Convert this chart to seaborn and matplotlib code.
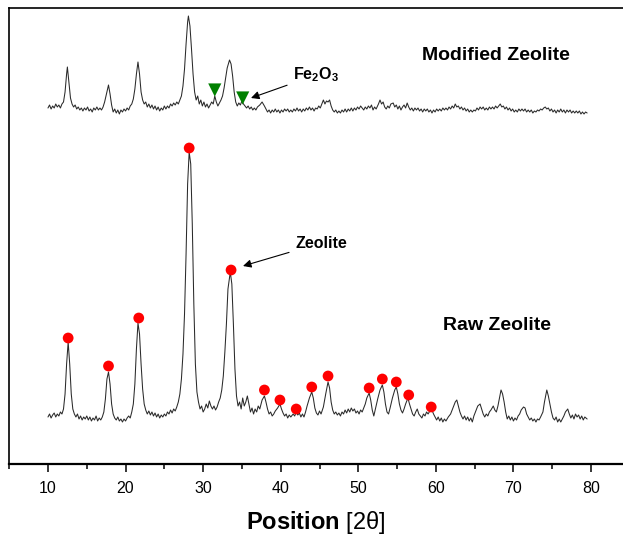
import numpy as np
import pandas as pd
import matplotlib
matplotlib.use("Agg")
import matplotlib.pyplot as plt
import seaborn as sns

# ---------------- data ----------------
raw_x = [10.0, 10.2, 10.4, 10.6, 10.8, 11.0, 11.2, 11.4, 11.6, 11.8, 12.0, 12.2, 12.4, 12.6, 12.8, 13.0, 13.2, 13.4, 13.6, 13.8,
         14.0, 14.2, 14.4, 14.6, 14.8, 15.0, 15.2, 15.4, 15.6, 15.8, 16.0, 16.2, 16.4, 16.6, 16.8, 17.0, 17.2, 17.4, 17.6, 17.8,
         18.0, 18.2, 18.4, 18.6, 18.8, 19.0, 19.2, 19.4, 19.6, 19.8, 20.0, 20.2, 20.4, 20.6, 20.8, 21.0, 21.2, 21.4, 21.6, 21.8,
         22.0, 22.2, 22.4, 22.6, 22.8, 23.0, 23.2, 23.4, 23.6, 23.8, 24.0, 24.2, 24.4, 24.6, 24.8, 25.0, 25.2, 25.4, 25.6, 25.8,
         26.0, 26.2, 26.4, 26.6, 26.8, 27.0, 27.2, 27.4, 27.6, 27.8, 28.0, 28.2, 28.4, 28.6, 28.8, 29.0, 29.2, 29.4, 29.6, 29.8,
         30.0, 30.2, 30.4, 30.6, 30.8, 31.0, 31.2, 31.4, 31.6, 31.8, 32.0, 32.2, 32.4, 32.6, 32.8, 33.0, 33.2, 33.5, 33.7, 33.9,
         34.1, 34.3, 34.5, 34.7, 34.9, 35.1, 35.3, 35.5, 35.7, 35.9, 36.1, 36.3, 36.5, 36.7, 36.9, 37.1, 37.3, 37.6, 37.9, 38.1,
         38.3, 38.5, 38.7, 38.9, 39.1, 39.3, 39.6, 39.9, 40.1, 40.3, 40.5, 40.7, 40.9, 41.1, 41.3, 41.6, 41.8, 42.0, 42.2, 42.4,
         42.6, 42.8, 43.0, 43.2, 43.4, 43.7, 44.0, 44.2, 44.4, 44.6, 44.8, 45.0, 45.2, 45.5, 45.8, 46.1, 46.3, 46.5, 46.7, 46.9,
         47.1, 47.3, 47.5, 47.7, 47.9, 48.1, 48.3, 48.5, 48.7, 48.9, 49.1, 49.3, 49.5, 49.7, 49.9, 50.1, 50.3, 50.5, 50.7, 50.9,
         51.1, 51.4, 51.6, 51.8, 52.0, 52.2, 52.5, 52.8, 53.1, 53.3, 53.5, 53.7, 53.9, 54.1, 54.4, 54.7, 54.9, 55.1, 55.3, 55.5,
         55.7, 55.9, 56.1, 56.4, 56.6, 56.8, 57.0, 57.2, 57.4, 57.6, 57.8, 58.0, 58.2, 58.4, 58.6, 58.8, 59.0, 59.3, 59.5, 59.7,
         59.9, 60.1, 60.3, 60.5, 60.7, 60.9, 61.1, 61.3, 61.6, 61.9, 62.2, 62.5, 62.7, 62.9, 63.1, 63.3, 63.5, 63.7, 63.9, 64.1,
         64.3, 64.5, 64.7, 64.9, 65.1, 65.4, 65.7, 65.9, 66.1, 66.3, 66.5, 66.7, 66.9, 67.1, 67.4, 67.6, 67.8, 68.0, 68.2, 68.4,
         68.6, 68.8, 69.0, 69.2, 69.4, 69.6, 69.8, 70.0, 70.2, 70.4, 70.6, 70.8, 71.0, 71.3, 71.5, 71.7, 71.9, 72.1, 72.3, 72.5,
         72.7, 72.9, 73.1, 73.3, 73.5, 73.8, 74.0, 74.3, 74.5, 74.7, 74.9, 75.1, 75.3, 75.5, 75.7, 75.9, 76.1, 76.3, 76.5, 76.7,
         77.0, 77.2, 77.4, 77.6, 77.8, 78.0, 78.2, 78.4, 78.6, 78.8, 79.0, 79.2, 79.5]
raw_y = [47, 50, 46, 49, 51, 47, 50, 48, 52, 50, 55, 70, 100, 122, 100, 70, 55, 50, 47, 50,
         45, 48, 44, 47, 45, 48, 44, 47, 43, 46, 44, 48, 43, 46, 44, 47, 52, 65, 85, 92,
         80, 60, 50, 46, 44, 47, 43, 45, 42, 45, 43, 46, 48, 46, 52, 60, 80, 115, 141, 130,
         100, 75, 60, 54, 50, 53, 49, 52, 48, 51, 47, 50, 46, 49, 47, 50, 48, 52, 50, 54,
         51, 55, 53, 57, 62, 70, 85, 110, 150, 210, 280, 312, 300, 240, 160, 100, 72, 62, 55, 58,
         52, 55, 60, 56, 63, 58, 55, 58, 54, 57, 62, 66, 74, 88, 112, 140, 175, 192, 180, 140,
         95, 68, 58, 62, 55, 66, 58, 62, 68, 60, 52, 56, 50, 55, 52, 58, 55, 64, 68, 62,
         55, 50, 52, 48, 50, 53, 56, 60, 55, 51, 48, 50, 46, 49, 47, 50, 48, 52, 49, 51,
         47, 50, 47, 52, 58, 66, 72, 66, 56, 51, 49, 53, 50, 57, 70, 82, 76, 62, 54, 50,
         52, 49, 51, 48, 52, 50, 54, 51, 55, 52, 56, 53, 55, 51, 53, 50, 54, 52, 56, 60,
         66, 71, 64, 54, 48, 55, 65, 74, 79, 72, 60, 52, 50, 56, 66, 74, 77, 70, 60, 54,
         51, 55, 60, 66, 60, 55, 50, 48, 52, 55, 50, 48, 46, 50, 48, 52, 50, 54, 54, 50,
         47, 44, 47, 43, 46, 42, 45, 43, 47, 50, 56, 62, 64, 58, 52, 48, 45, 48, 44, 47,
         43, 46, 42, 48, 52, 58, 60, 55, 50, 47, 50, 48, 52, 54, 58, 54, 52, 58, 66, 74,
         70, 62, 52, 45, 48, 44, 47, 43, 46, 44, 48, 50, 54, 57, 56, 50, 47, 44, 46, 43,
         45, 42, 45, 44, 47, 52, 62, 74, 68, 60, 52, 46, 44, 47, 42, 45, 42, 45, 48, 52,
         55, 50, 46, 49, 45, 50, 47, 49, 45, 48, 44, 47, 45]

mod_x = [10.0, 10.2, 10.4, 10.6, 10.8, 11.0, 11.2, 11.4, 11.6, 11.8, 12.0, 12.2, 12.4, 12.5, 12.7, 12.9, 13.1, 13.3, 13.5, 13.7,
         13.9, 14.1, 14.3, 14.5, 14.7, 14.9, 15.1, 15.3, 15.5, 15.7, 15.9, 16.1, 16.3, 16.5, 16.7, 16.9, 17.1, 17.3, 17.6, 17.8,
         18.0, 18.2, 18.4, 18.6, 18.8, 19.0, 19.2, 19.4, 19.6, 19.8, 20.0, 20.2, 20.4, 20.6, 20.8, 21.0, 21.2, 21.4, 21.6, 21.8,
         22.0, 22.2, 22.4, 22.6, 22.8, 23.0, 23.2, 23.4, 23.6, 23.8, 24.0, 24.2, 24.4, 24.6, 24.8, 25.0, 25.2, 25.4, 25.6, 25.8,
         26.0, 26.2, 26.4, 26.6, 26.8, 27.0, 27.2, 27.4, 27.6, 27.8, 28.0, 28.1, 28.3, 28.5, 28.7, 28.9, 29.1, 29.3, 29.5, 29.7,
         29.9, 30.1, 30.3, 30.5, 30.7, 30.9, 31.1, 31.3, 31.5, 31.7, 31.9, 32.1, 32.3, 32.5, 32.7, 32.9, 33.1, 33.4, 33.6, 33.8,
         34.0, 34.2, 34.4, 34.6, 34.8, 35.0, 35.2, 35.4, 35.6, 35.8, 36.0, 36.2, 36.4, 36.6, 36.8, 37.0, 37.3, 37.6, 37.9, 38.1,
         38.3, 38.5, 38.7, 38.9, 39.1, 39.3, 39.5, 39.7, 39.9, 40.1, 40.3, 40.5, 40.7, 40.9, 41.1, 41.3, 41.5, 41.7, 41.9, 42.1,
         42.3, 42.5, 42.7, 42.9, 43.1, 43.3, 43.5, 43.7, 43.9, 44.1, 44.3, 44.5, 44.7, 44.9, 45.1, 45.3, 45.5, 45.7, 45.9, 46.1,
         46.3, 46.5, 46.7, 46.9, 47.1, 47.3, 47.5, 47.7, 47.9, 48.1, 48.3, 48.5, 48.7, 48.9, 49.1, 49.3, 49.5, 49.7, 49.9, 50.1,
         50.3, 50.5, 50.7, 50.9, 51.1, 51.3, 51.5, 51.7, 51.9, 52.1, 52.3, 52.6, 52.8, 53.0, 53.2, 53.4, 53.6, 53.8, 54.0, 54.2,
         54.5, 54.7, 54.9, 55.1, 55.3, 55.5, 55.7, 55.9, 56.1, 56.3, 56.5, 56.7, 56.9, 57.1, 57.3, 57.5, 57.7, 57.9, 58.1, 58.3,
         58.5, 58.7, 58.9, 59.1, 59.3, 59.5, 59.7, 59.9, 60.1, 60.3, 60.5, 60.7, 60.9, 61.1, 61.3, 61.5, 61.7, 61.9, 62.1, 62.3,
         62.5, 62.7, 62.9, 63.1, 63.3, 63.5, 63.7, 63.9, 64.1, 64.3, 64.5, 64.7, 64.9, 65.1, 65.3, 65.5, 65.7, 65.9, 66.1, 66.3,
         66.5, 66.7, 66.9, 67.1, 67.3, 67.5, 67.7, 67.9, 68.1, 68.3, 68.5, 68.7, 68.9, 69.1, 69.3, 69.5, 69.7, 69.9, 70.1, 70.3,
         70.5, 70.7, 70.9, 71.1, 71.3, 71.5, 71.7, 71.9, 72.1, 72.3, 72.5, 72.7, 72.9, 73.1, 73.3, 73.5, 73.7, 73.9, 74.1, 74.3,
         74.5, 74.7, 74.9, 75.1, 75.3, 75.5, 75.7, 75.9, 76.1, 76.3, 76.5, 76.7, 76.9, 77.1, 77.3, 77.5, 77.7, 77.9, 78.1, 78.3,
         78.5, 78.7, 78.9, 79.1, 79.3, 79.5]
mod_y = [46, 49, 45, 48, 46, 50, 47, 49, 46, 50, 52, 62, 80, 87, 72, 56, 50, 47, 49, 45,
         47, 44, 46, 43, 46, 44, 47, 43, 45, 42, 46, 44, 47, 44, 46, 44, 47, 52, 62, 69,
         60, 49, 42, 45, 41, 44, 40, 44, 42, 45, 43, 46, 44, 48, 50, 55, 65, 80, 92, 80,
         62, 54, 50, 52, 47, 50, 46, 49, 45, 48, 44, 47, 43, 46, 44, 48, 45, 48, 46, 50,
         48, 51, 49, 52, 50, 54, 58, 68, 85, 110, 132, 138, 128, 105, 80, 62, 54, 58, 50, 54,
         48, 52, 47, 50, 46, 49, 52, 50, 58, 52, 48, 51, 54, 58, 66, 76, 86, 94, 90, 78,
         62, 52, 48, 51, 49, 53, 50, 48, 46, 48, 45, 47, 44, 46, 44, 47, 49, 52, 48, 45,
         42, 44, 41, 44, 42, 45, 42, 44, 41, 44, 42, 45, 43, 45, 42, 44, 42, 45, 43, 46,
         43, 45, 42, 45, 43, 46, 44, 47, 44, 46, 43, 46, 45, 48, 46, 50, 54, 50, 53, 52,
         54, 48, 44, 42, 44, 41, 43, 41, 44, 42, 45, 42, 45, 43, 46, 43, 46, 44, 47, 45,
         48, 46, 44, 47, 45, 48, 46, 49, 44, 47, 45, 50, 54, 50, 52, 47, 45, 48, 46, 50,
         51, 47, 49, 45, 48, 44, 47, 49, 46, 51, 47, 44, 46, 43, 46, 44, 46, 43, 45, 42,
         45, 43, 45, 42, 44, 41, 44, 42, 45, 43, 45, 43, 46, 44, 46, 44, 47, 45, 48, 46,
         50, 47, 48, 45, 47, 44, 46, 43, 45, 42, 44, 42, 44, 43, 46, 44, 47, 45, 47, 44,
         46, 44, 47, 45, 47, 45, 48, 46, 48, 50, 47, 48, 45, 47, 44, 46, 43, 45, 42, 44,
         42, 45, 43, 45, 43, 45, 42, 44, 42, 44, 41, 43, 42, 44, 43, 45, 44, 46, 47, 45,
         46, 43, 45, 42, 44, 41, 44, 42, 45, 42, 44, 41, 44, 42, 44, 41, 43, 41, 43, 41,
         43, 40, 42, 40, 42, 41]
mod_offset = 310

# peak markers
zeolite_x = [12.6, 17.8, 21.7, 28.2, 33.6, 37.9, 39.9, 42.0, 44.0, 46.1, 51.4, 53.1, 54.9, 56.5, 59.4]
zeolite_y = [126, 98, 146, 316, 194, 74, 64, 55, 77, 88, 76, 85, 82, 69, 57]
fe2o3_x = [31.5, 35.1]
fe2o3_y = [64, 56]   # relative to modified trace

xticks = [10, 20, 30, 40, 50, 60, 70, 80]

# ---------------- plotting ----------------
sns.set_style("ticks")
plt.rcParams["font.family"] = ["Liberation Sans", "DejaVu Sans"]
plt.rcParams["mathtext.fontset"] = "custom"
plt.rcParams["mathtext.rm"] = "Liberation Sans"
plt.rcParams["mathtext.bf"] = "Liberation Sans:bold"
plt.rcParams["mathtext.it"] = "Liberation Sans:italic"
plt.rcParams["text.color"] = "black"
plt.rcParams["xtick.color"] = "black"
plt.rcParams["xtick.labelcolor"] = "black"

fig = plt.figure(figsize=(6.23, 5.36), dpi=100)
ax = fig.add_axes([9.2 / 623, 72 / 536, 620.6 / 623, 456 / 536])

raw_df = pd.DataFrame({"x": raw_x, "y": raw_y})
mod_df = pd.DataFrame({"x": mod_x, "y": np.array(mod_y) + mod_offset})

sns.lineplot(data=raw_df, x="x", y="y", ax=ax, color="#2a2a2a", linewidth=0.75, sort=False, estimator=None)
sns.lineplot(data=mod_df, x="x", y="y", ax=ax, color="#2a2a2a", linewidth=0.75, sort=False, estimator=None)

sns.scatterplot(x=zeolite_x, y=zeolite_y, ax=ax, color="#ff0000", s=60, edgecolor="none", marker="o", zorder=5)
sns.scatterplot(x=fe2o3_x, y=np.array(fe2o3_y) + mod_offset, ax=ax, color="#008000", s=90,
                edgecolor="none", marker="v", zorder=5)

ax.set_xlim(5, 85)
ax.set_ylim(0, 456)
ax.set_yticks([])
ax.set_ylabel("")
ax.set_xlabel("")
ax.set_xticks(xticks)
ax.set_xticks([5, 15, 25, 35, 45, 55, 65, 75, 85], minor=True)
ax.tick_params(axis="x", which="major", direction="out", length=6, width=1.1, labelsize=11.5, pad=6,
               colors="black", labelcolor="black")
ax.tick_params(axis="x", which="minor", direction="out", length=3.5, width=1.1, colors="black")
for s in ax.spines.values():
    s.set_linewidth(1.2)
    s.set_color("black")
ax.spines["bottom"].set_linewidth(1.6)


def px2x(px):
    return 10 + (px - 48) / 7.757


def py2y(py):
    return 464 - py


ax.text(px2x(496), py2y(55), "Modified Zeolite", fontsize=14, fontweight="bold", ha="center", va="center", color="black")
ax.text(px2x(497), py2y(325), "Raw Zeolite", fontsize=14, fontweight="bold", ha="center", va="center", color="black")

ax.annotate("Zeolite", xy=(px2x(243), py2y(266)), xytext=(px2x(295), py2y(243)),
            fontsize=11.5, fontweight="bold", ha="left", va="center", color="black",
            arrowprops=dict(arrowstyle="-|>", color="black", lw=0.8, mutation_scale=12, shrinkA=2, shrinkB=0))
ax.annotate(r"$\mathbf{Fe_2O_3}$", xy=(px2x(251), py2y(98)), xytext=(px2x(293), py2y(75)),
            fontsize=11.5, ha="left", va="center", color="black",
            arrowprops=dict(arrowstyle="-|>", color="black", lw=0.8, mutation_scale=12, shrinkA=2, shrinkB=0))

fig.text(316 / 623, 1 - 522 / 536, r"$\mathbf{Position}$ [2θ]", fontsize=17, ha="center", va="center", color="black")

fig.savefig("out.png", dpi=100, facecolor="white")
